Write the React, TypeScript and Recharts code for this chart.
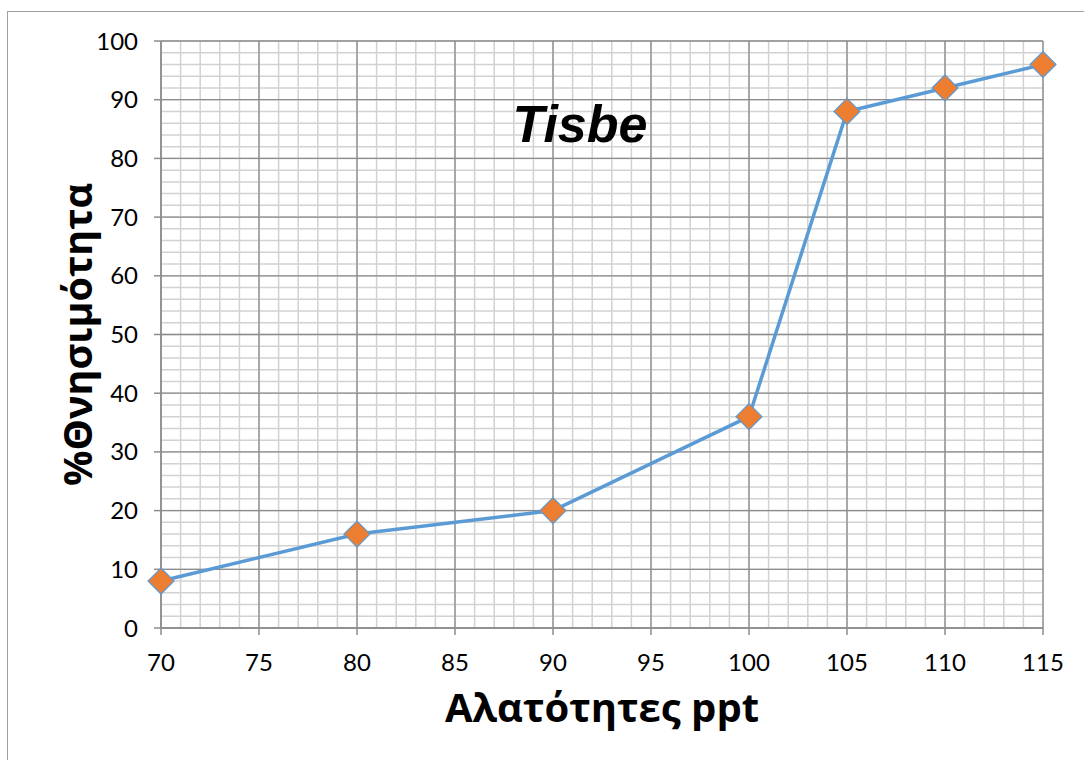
import React from "react"
import {
  LineChart,
  Line,
  XAxis,
  YAxis,
  CartesianGrid,
} from "recharts"

// salinity (ppt) vs mortality (%)
const salinity = [70, 80, 90, 100, 105, 110, 115]
const mortality = [8, 16, 20, 36, 88, 92, 96]

const xTicks = [70, 75, 80, 85, 90, 95, 100, 105, 110, 115]
const yTicks = [0, 10, 20, 30, 40, 50, 60, 70, 80, 90, 100]

const xMinor: number[] = []
for (let v = 70; v <= 115; v += 1) xMinor.push(v)
const yMinor: number[] = []
for (let v = 0; v <= 100; v += 2) yMinor.push(v)

const data = salinity.map((s, i) => ({ salinity: s, mortality: mortality[i] }))

const W = 1084
const H = 760

const Diamond = (props: any) => {
  const { cx, cy } = props
  if (cx == null || cy == null) return null
  const r = 13
  return (
    <polygon
      points={`${cx},${cy - r} ${cx + r},${cy} ${cx},${cy + r} ${cx - r},${cy}`}
      fill="#ED7D31"
      stroke="#5B9BD5"
      strokeWidth={1.2}
    />
  )
}

const tickStyle = { fontFamily: "Lato, sans-serif", fontSize: 24, fill: "#000" }

const titleStyle = {
  fontFamily: "'Open Sans', sans-serif",
  fontWeight: 700,
  fill: "#000",
}

export default function App() {
  return (
    <div
      style={{
        position: "absolute",
        left: 0,
        top: 0,
        width: W,
        height: H,
        overflow: "hidden",
        background: "#fff",
      }}
    >
      <div
        style={{
          position: "absolute",
          left: 7,
          top: 11,
          width: W + 20,
          height: H + 20,
          border: "1px solid #a0a0a0",
        }}
      />
      <div style={{ position: "absolute", left: 0, top: 0 }}>
        <LineChart
          width={W}
          height={H}
          data={data}
          margin={{ top: 41, right: 41, bottom: 0, left: 0 }}
        >
          <CartesianGrid
            stroke="#d2d2d2"
            strokeWidth={1.5}
            verticalValues={xMinor}
            horizontalValues={yMinor}
          />
          <CartesianGrid
            stroke="#8c8c8c"
            strokeWidth={1.3}
            verticalValues={xTicks}
            horizontalValues={yTicks}
          />
          <XAxis
            dataKey="salinity"
            type="number"
            domain={[70, 115]}
            ticks={xTicks}
            interval={0}
            tickSize={7}
            tickMargin={19}
            stroke="#8c8c8c"
            strokeWidth={1.5}
            tick={tickStyle}
            height={132}
            label={{
              value: "Αλατότητες ppt",
              position: "insideBottom",
              offset: 38,
              style: { ...titleStyle, fontSize: 40 },
            }}
          />
          <YAxis
            type="number"
            domain={[0, 100]}
            ticks={yTicks}
            interval={0}
            tickSize={7}
            tickMargin={16}
            stroke="#8c8c8c"
            strokeWidth={1.5}
            tick={tickStyle}
            width={161}
            label={{
              value: "%Θνησιμότητα",
              angle: -90,
              position: "insideLeft",
              offset: 78,
              style: { ...titleStyle, fontSize: 39.5, textAnchor: "middle" },
            }}
          />
          <Line
            dataKey="mortality"
            stroke="#5B9BD5"
            strokeWidth={3.5}
            dot={<Diamond />}
            activeDot={false}
            isAnimationActive={false}
          />
          <text
            x={580}
            y={142}
            textAnchor="middle"
            fontFamily="'Liberation Sans', Arial, sans-serif"
            fontWeight={700}
            fontStyle="italic"
            fontSize={52}
            fill="#000"
          >
            Tisbe
          </text>
        </LineChart>
      </div>
    </div>
  )
}
